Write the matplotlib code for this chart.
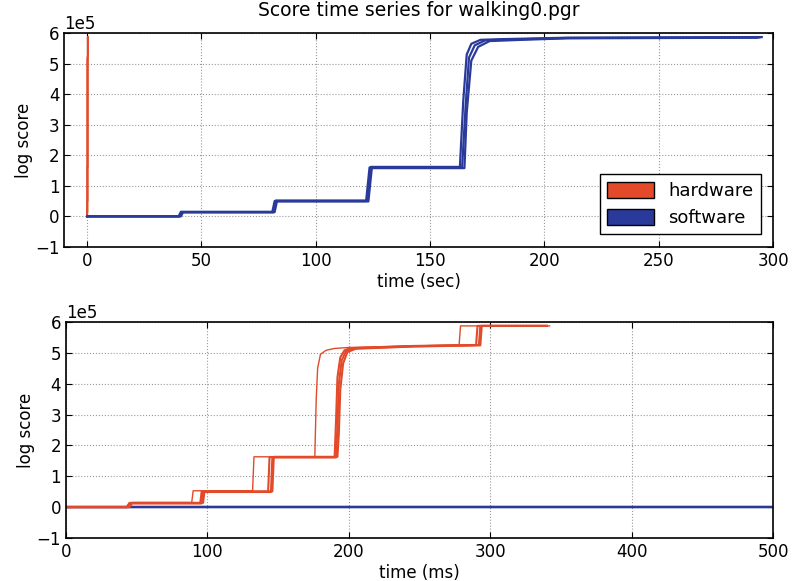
import numpy as np
import matplotlib
matplotlib.use("Agg")
import matplotlib.pyplot as plt
from matplotlib.patches import Patch

# score values in units of 1e5, times in ms
# software runs (slow, tens of seconds per step)
sw1_t = [0, 40000, 41000, 81000, 82000, 122000, 123500, 163000, 164500, 166000, 168000, 172000, 180000, 210000, 295000]
sw1_y = [0, 0, 0.15, 0.15, 0.50, 0.50, 1.60, 1.60, 3.80, 5.30, 5.65, 5.78, 5.80, 5.85, 5.87]
sw2_t = [0, 40500, 41500, 81500, 82500, 122500, 124000, 164000, 165500, 167000, 169500, 174000, 185000, 210000, 294000]
sw2_y = [0, 0, 0.13, 0.13, 0.52, 0.52, 1.62, 1.62, 3.60, 5.20, 5.60, 5.76, 5.79, 5.84, 5.86]
sw3_t = [0, 41000, 42000, 82000, 83000, 123000, 124500, 165000, 166000, 168000, 171000, 176000, 190000, 210000, 293000]
sw3_y = [0, 0, 0.14, 0.14, 0.49, 0.49, 1.58, 1.58, 3.40, 5.10, 5.55, 5.74, 5.78, 5.83, 5.85]

# hardware runs (fast, a few hundred ms)
hw1_t = [0, 43, 45, 89, 90, 132, 133, 176, 177, 178, 180, 184, 190, 200, 245, 278, 279, 342]
hw1_y = [0, 0, 0.15, 0.15, 0.53, 0.53, 1.63, 1.63, 3.50, 4.50, 4.95, 5.08, 5.14, 5.17, 5.22, 5.25, 5.87, 5.87]
hw2_t = [0, 43, 45, 95, 96, 143, 144, 190, 191, 192, 194, 197, 201, 245, 290, 291, 340]
hw2_y = [0, 0, 0.13, 0.13, 0.50, 0.50, 1.62, 1.62, 2.80, 4.20, 4.85, 5.08, 5.15, 5.22, 5.25, 5.87, 5.87]
hw3_t = [0, 44, 46, 96, 97, 145, 146, 191, 192, 193, 195, 198, 203, 245, 292, 293, 340]
hw3_y = [0, 0, 0.12, 0.12, 0.49, 0.49, 1.61, 1.61, 2.60, 4.00, 4.75, 5.05, 5.14, 5.21, 5.25, 5.87, 5.87]
hw4_t = [0, 45, 47, 97, 98, 146, 147, 192, 193, 194, 196, 199, 205, 245, 293, 294, 340]
hw4_y = [0, 0, 0.14, 0.14, 0.51, 0.51, 1.63, 1.63, 2.40, 3.80, 4.65, 5.02, 5.13, 5.20, 5.24, 5.87, 5.87]

sw_runs = [(sw1_t, sw1_y), (sw2_t, sw2_y), (sw3_t, sw3_y)]
hw_runs = [(hw1_t, hw1_y), (hw2_t, hw2_y), (hw3_t, hw3_y), (hw4_t, hw4_y)]

hw_color = "#e24a2a"
sw_color = "#2a3a9a"

plt.rcParams["font.family"] = "DejaVu Sans"
plt.rcParams["xtick.direction"] = "in"
plt.rcParams["ytick.direction"] = "in"
plt.rcParams["xtick.top"] = True
plt.rcParams["ytick.right"] = True
plt.rcParams["xtick.major.size"] = 4
plt.rcParams["ytick.major.size"] = 4

fig = plt.figure(figsize=(7.93, 5.81), dpi=100)
ax1 = fig.add_axes([0.081, 0.575, 0.894, 0.368])
ax2 = fig.add_axes([0.083, 0.074, 0.892, 0.372])

# top: time in seconds
for t, y in hw_runs:
    ax1.plot(np.array(t) / 1000.0, np.array(y) * 1e5, color=hw_color, lw=1.2)
for t, y in sw_runs:
    ax1.plot(np.array(t) / 1000.0, np.array(y) * 1e5, color=sw_color, lw=1.6)

# bottom: time in ms
for t, y in sw_runs:
    ax2.plot(t, np.array(y) * 1e5, color=sw_color, lw=1.6)
ax2.plot(hw1_t, np.array(hw1_y) * 1e5, color=hw_color, lw=1.0)
for t, y in hw_runs[1:]:
    ax2.plot(t, np.array(y) * 1e5, color=hw_color, lw=1.5)

ax1.set_xlim(-10, 300)
ax2.set_xlim(0, 500)
for ax in (ax1, ax2):
    ax.set_ylim(-1e5, 6e5)
    ax.set_yticks(np.arange(-1, 7) * 1e5)
    ax.ticklabel_format(axis="y", style="sci", scilimits=(0, 0))
    ax.grid(True, linestyle=":", color="#999999", lw=0.8)
    ax.set_ylabel("log score", fontsize=12, labelpad=1)
    ax.tick_params(axis="both", which="major", labelsize=12)
    ax.yaxis.get_offset_text().set_fontsize(12)
    for s in ax.spines.values():
        s.set_linewidth(1.2)

ax1.set_xticks([0, 50, 100, 150, 200, 250, 300])
ax2.set_xticks([0, 100, 200, 300, 400, 500])
ax1.set_xlabel("time (sec)", fontsize=12, labelpad=2)
ax2.set_xlabel("time (ms)", fontsize=12, labelpad=2)
ax1.set_title("Score time series for walking0.pgr", fontsize=13.5, pad=12)

handles = [Patch(facecolor=hw_color, edgecolor="black", label="hardware"),
           Patch(facecolor=sw_color, edgecolor="black", label="software")]
leg = ax1.legend(handles=handles, loc="lower right", fontsize=13, fancybox=False,
                 framealpha=1, edgecolor="black", handlelength=2.6, handleheight=1.0,
                 borderaxespad=0.7)
leg.get_frame().set_linewidth(1.0)

plt.savefig("out.png", dpi=100)
